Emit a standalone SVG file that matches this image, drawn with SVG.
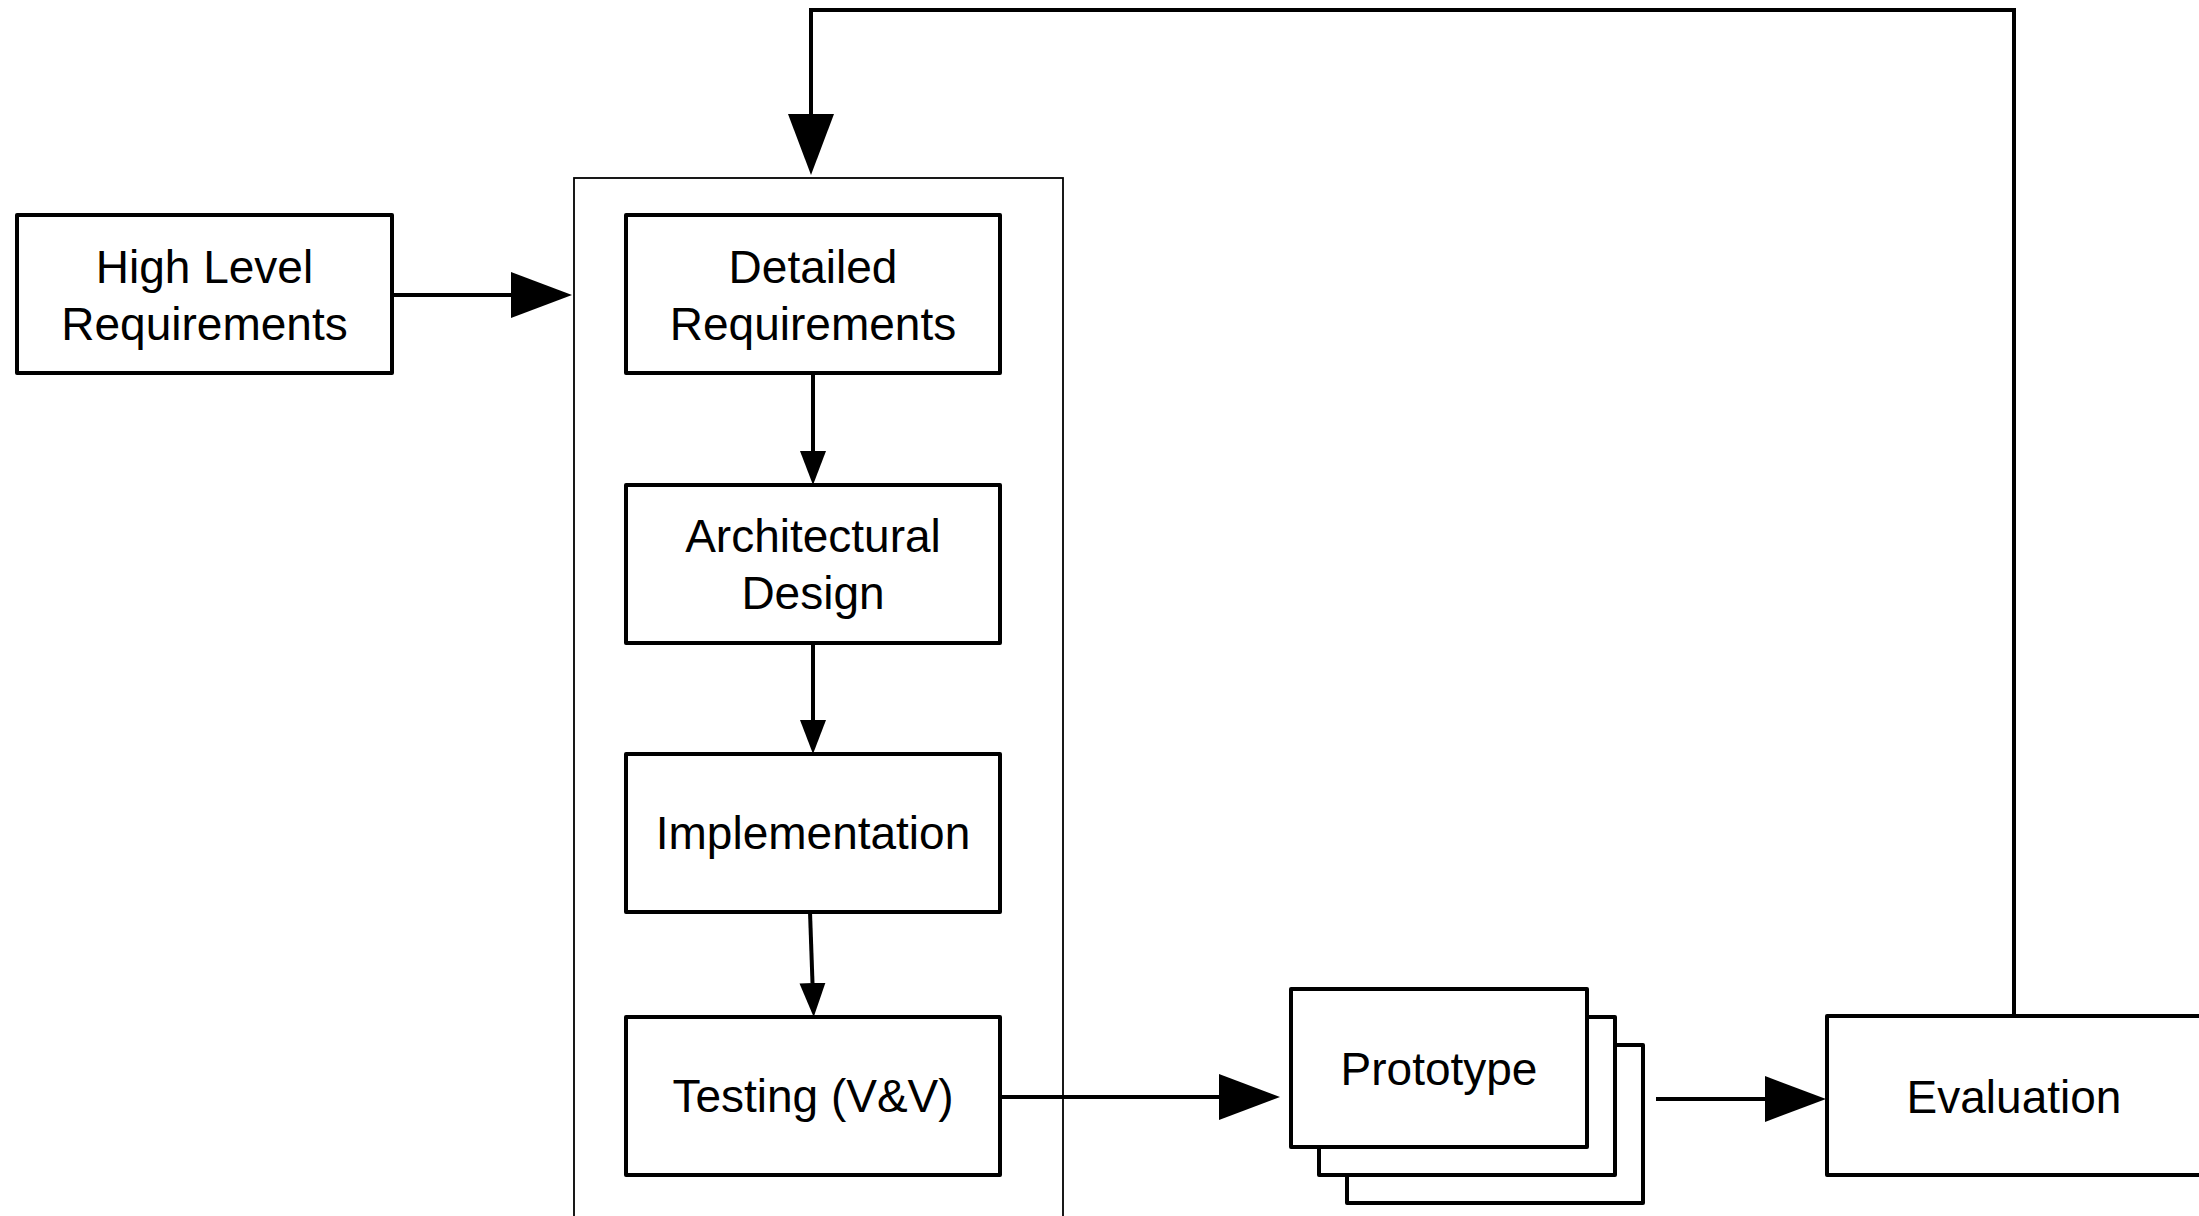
<svg xmlns="http://www.w3.org/2000/svg" width="2199" height="1216" viewBox="0 0 2199 1216">
<style>
.box{fill:#fff;stroke:#000;stroke-width:4;stroke-linejoin:round}
.frame{fill:none;stroke:#000;stroke-width:1.8}
.lbl{font-family:"Liberation Sans",Arial,Helvetica,sans-serif;font-size:46px;fill:#000;text-anchor:middle}
.conn{fill:none;stroke:#000;stroke-width:4}
.big{marker-end:url(#bigArrow)}
.small{marker-end:url(#smallArrow)}
</style>
<defs>
<marker id="bigArrow" markerUnits="userSpaceOnUse" markerWidth="62" markerHeight="48" refX="0" refY="23" orient="auto">
<path d="M0,0 L61,23 L0,46 z" fill="#000"/>
</marker>
<marker id="smallArrow" markerUnits="userSpaceOnUse" markerWidth="36" markerHeight="28" refX="0" refY="13" orient="auto">
<path d="M0,0 L34,13 L0,26 z" fill="#000"/>
</marker>
</defs>
<rect width="2199" height="1216" fill="#fff"/>

<g id="process-frame">
<rect class="frame" x="574" y="178" width="489" height="1100"/>
</g>

<g id="high-level-requirements">
<rect class="box" x="17" y="215" width="375" height="158"/>
<text class="lbl" x="204.5" y="283">High Level</text>
<text class="lbl" x="204.5" y="340">Requirements</text>
</g>

<g id="detailed-requirements">
<rect class="box" x="626" y="215" width="374" height="158"/>
<text class="lbl" x="813" y="283">Detailed</text>
<text class="lbl" x="813" y="340">Requirements</text>
</g>

<g id="architectural-design">
<rect class="box" x="626" y="485" width="374" height="158"/>
<text class="lbl" x="813" y="552">Architectural</text>
<text class="lbl" x="813" y="609">Design</text>
</g>

<g id="implementation">
<rect class="box" x="626" y="754" width="374" height="158"/>
<text class="lbl" x="813" y="849">Implementation</text>
</g>

<g id="testing">
<rect class="box" x="626" y="1017" width="374" height="158"/>
<text class="lbl" x="813" y="1112">Testing (V&amp;V)</text>
</g>

<g id="prototype">
<rect class="box" x="1347" y="1045" width="296" height="158"/>
<rect class="box" x="1319" y="1017" width="296" height="158"/>
<rect class="box" x="1291" y="989" width="296" height="158"/>
<text class="lbl" x="1439" y="1085">Prototype</text>
</g>

<g id="evaluation">
<rect class="box" x="1827" y="1016" width="375" height="159"/>
<text class="lbl" x="2014" y="1113">Evaluation</text>
</g>

<g id="connectors">
<path class="conn big" d="M392,295 H511"/>
<path class="conn big" d="M2014,1016 V10 H811 V114"/>
<path class="conn small" d="M813,373 V451"/>
<path class="conn small" d="M813,643 V720"/>
<path class="conn small" d="M810,912 L812.5,983"/>
<path class="conn big" d="M1000,1097 H1219"/>
<path class="conn big" d="M1656,1099 H1765"/>
</g>
</svg>
